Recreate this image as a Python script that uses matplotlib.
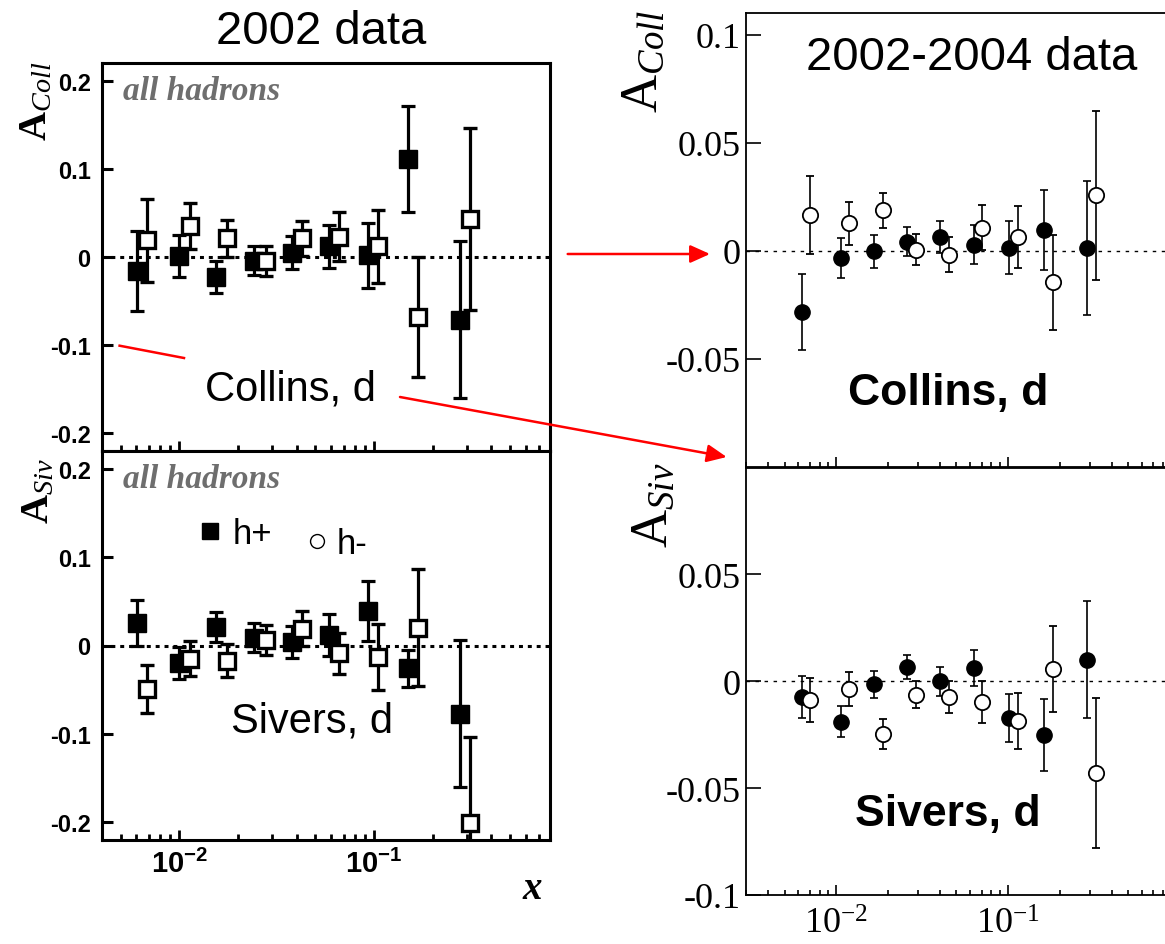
import matplotlib.pyplot as plt
import numpy as np
from matplotlib.lines import Line2D
from matplotlib.patches import FancyArrowPatch
from matplotlib.ticker import LogLocator, NullFormatter

plt.rcParams['mathtext.fontset'] = 'custom'
plt.rcParams['mathtext.rm'] = 'Liberation Serif'
plt.rcParams['mathtext.it'] = 'Liberation Serif:italic'
plt.rcParams['mathtext.bf'] = 'Liberation Serif:bold'
plt.rcParams['mathtext.sf'] = 'Liberation Sans:bold'

# 2002 data (squares): h+ filled, h- open
x02_pos = [0.0061, 0.0100, 0.0155, 0.0243, 0.0377, 0.0590, 0.0927, 0.150, 0.275]
x02_neg = [0.00686, 0.0113, 0.0176, 0.0278, 0.0424, 0.0664, 0.105, 0.168, 0.310]
coll02_pos = [-0.016, 0.001, -0.023, -0.004, 0.005, 0.012, 0.002, 0.111, -0.071]
coll02_pos_err = [0.045, 0.024, 0.018, 0.016, 0.019, 0.024, 0.037, 0.060, 0.089]
coll02_neg = [0.019, 0.035, 0.021, -0.004, 0.021, 0.023, 0.012, -0.068, 0.043]
coll02_neg_err = [0.047, 0.026, 0.021, 0.017, 0.020, 0.028, 0.041, 0.068, 0.103]
siv02_pos = [0.026, -0.020, 0.021, 0.009, 0.004, 0.012, 0.039, -0.026, -0.077]
siv02_pos_err = [0.026, 0.018, 0.017, 0.016, 0.018, 0.024, 0.034, 0.021, 0.083]
siv02_neg = [-0.049, -0.015, -0.017, 0.006, 0.019, -0.009, -0.013, 0.020, -0.201]
siv02_neg_err = [0.027, 0.020, 0.019, 0.017, 0.020, 0.023, 0.037, 0.066, 0.098]

# 2002-2004 data (circles): h+ filled, h- open
x04_pos = [0.00632, 0.01069, 0.01656, 0.0257, 0.0402, 0.0632, 0.1016, 0.1615, 0.289]
x04_neg = [0.00708, 0.01186, 0.01862, 0.0292, 0.0453, 0.0709, 0.1143, 0.1819, 0.3236]
coll04_pos = [-0.0283, -0.0035, -0.0003, 0.0043, 0.0064, 0.0028, 0.0015, 0.0095, 0.0015]
coll04_pos_err = [0.0176, 0.0093, 0.0075, 0.0065, 0.0072, 0.0091, 0.0123, 0.0185, 0.031]
coll04_neg = [0.0165, 0.0127, 0.0188, 0.0005, -0.0018, 0.0107, 0.0064, -0.0145, 0.0257]
coll04_neg_err = [0.018, 0.0099, 0.0081, 0.0072, 0.0081, 0.0105, 0.0142, 0.022, 0.039]
siv04_pos = [-0.0073, -0.0189, -0.0015, 0.0067, 0.0, 0.0062, -0.0173, -0.0252, 0.0101]
siv04_pos_err = [0.0098, 0.0072, 0.0065, 0.0058, 0.0067, 0.0085, 0.0112, 0.017, 0.0275]
siv04_neg = [-0.0088, -0.0036, -0.0248, -0.0062, -0.0073, -0.0098, -0.0186, 0.0057, -0.0429]
siv04_neg_err = [0.0103, 0.0078, 0.007, 0.0064, 0.0076, 0.0097, 0.013, 0.0201, 0.035]

left_yticks = [-0.2, -0.1, 0, 0.1, 0.2]
left_ylabels = ['-0.2', '-0.1', '0', '0.1', '0.2']
xticks = [0.01, 0.1]
left_xlabels = [r'$\mathsf{10^{-2}}$', r'$\mathsf{10^{-1}}$']
right_xlabels = [r'$\mathrm{10^{-2}}$', r'$\mathrm{10^{-1}}$']
coll_right_yticks = [-0.05, 0, 0.05, 0.1]
coll_right_ylabels = ['-0.05', '0', '0.05', '0.1']
siv_right_yticks = [-0.1, -0.05, 0, 0.05]
siv_right_ylabels = ['-0.1', '-0.05', '0', '0.05']

W, H = 1165, 945
fig = plt.figure(figsize=(W / 100, H / 100), dpi=100)


def fx(px):
    return px / W


def fy(py):
    return 1 - py / H


def box(x0, y0, x1, y1):
    # pixel box (top-left origin) -> figure fraction rect
    return [fx(x0), fy(y1), (x1 - x0) / W, (y1 - y0) / H]


ax_c02 = fig.add_axes(box(101.8, 64, 550, 452))
ax_s02 = fig.add_axes(box(101.8, 452, 550, 841))
ax_c04 = fig.add_axes(box(746.4, 14, 1180, 468))
ax_s04 = fig.add_axes(box(746.4, 468.5, 1180, 896))

sans = 'Liberation Sans'
serif = 'Liberation Serif'

# ---- 2002 panels ----
for ax, ypos, epos, yneg, eneg in [(ax_c02, coll02_pos, coll02_pos_err, coll02_neg, coll02_neg_err),
                                   (ax_s02, siv02_pos, siv02_pos_err, siv02_neg, siv02_neg_err)]:
    ax.set_xscale('log')
    ax.set_xlim(0.004, 0.8)
    ax.set_ylim(-0.22, 0.22)
    ax.axhline(0, color='black', lw=2.2, dashes=(1.3, 1.6), zorder=1)
    ax.errorbar(x02_pos, ypos, yerr=epos, fmt='s', ms=12.5, mfc='black', mec='black',
                ecolor='black', elinewidth=2.3, capsize=5, capthick=2.3, zorder=3)
    ax.errorbar(x02_neg, yneg, yerr=eneg, fmt='s', ms=12, mfc='white', mec='black', mew=2.4,
                ecolor='black', elinewidth=2.3, capsize=5, capthick=2.3, zorder=4)
    for s in ax.spines.values():
        s.set_linewidth(2.2)
    ax.set_yticks(left_yticks)
    ax.set_yticklabels(left_ylabels, fontfamily=sans, fontweight='bold', fontsize=17)
    ax.set_xticks(xticks)
    ax.xaxis.set_minor_locator(LogLocator(base=10, subs=np.arange(2, 10)))
    ax.xaxis.set_minor_formatter(NullFormatter())
    ax.tick_params(axis='y', direction='in', length=8, width=2.2, pad=8)
    ax.tick_params(axis='x', which='major', direction='in', length=7, width=2, pad=6, top=False)
    ax.tick_params(axis='x', which='minor', direction='in', length=4, width=2, top=False)

ax_c02.set_xticklabels([])
ax_s02.set_xticklabels(left_xlabels, fontsize=21)

for yy in (92, 480):
    fig.text(fx(123), fy(yy), 'all hadrons', family=serif, style='italic', weight='bold',
             fontsize=24, color='#6e6e6e', ha='left', va='center')

fig.text(fx(35), fy(101), r'$\mathbf{A}_{Coll}$', fontsize=29, rotation=90, ha='center', va='center')
fig.text(fx(37), fy(491), r'$\mathbf{A}_{Siv}$', fontsize=29, rotation=90, ha='center', va='center')
fig.text(fx(532), fy(890), 'x', family=serif, style='italic', weight='bold', fontsize=28,
         ha='center', va='center')

fig.text(fx(321), fy(32), '2002 data', family=sans, fontsize=34, ha='center', va='center')
fig.text(fx(290), fy(390), 'Collins, d', family=sans, fontsize=30, ha='center', va='center')
fig.text(fx(312), fy(722), 'Sivers, d', family=sans, fontsize=30, ha='center', va='center')

# legend: h+ filled square, h- open circle
h_pos = Line2D([], [], ls='none', marker='s', ms=11.5, mfc='black', mec='black')
h_neg = Line2D([], [], ls='none', marker='o', ms=10, mfc='white', mec='black', mew=1.0)
leg1 = ax_s02.legend([h_pos], ['h+'], loc='center left', bbox_to_anchor=(fx(199.3), fy(535)),
                     bbox_transform=fig.transFigure, frameon=False, borderpad=0, borderaxespad=0,
                     numpoints=1, handlelength=0.64, handletextpad=0.32,
                     prop={'family': sans, 'size': 25})
ax_s02.add_artist(leg1)
ax_s02.legend([h_neg], ['h-'], loc='center left', bbox_to_anchor=(fx(307.4), fy(545)),
              bbox_transform=fig.transFigure, frameon=False, borderpad=0, borderaxespad=0,
              numpoints=1, handlelength=0.55, handletextpad=0.28,
              prop={'family': sans, 'size': 25})

# ---- 2002-2004 panels ----
for ax, ypos, epos, yneg, eneg, yt, yl, ylim in [
        (ax_c04, coll04_pos, coll04_pos_err, coll04_neg, coll04_neg_err,
         coll_right_yticks, coll_right_ylabels, (-0.1, 0.11)),
        (ax_s04, siv04_pos, siv04_pos_err, siv04_neg, siv04_neg_err,
         siv_right_yticks, siv_right_ylabels, (-0.1, 0.1))]:
    ax.set_xscale('log')
    ax.set_xlim(0.003, 1)
    ax.set_ylim(*ylim)
    ax.axhline(0, color='black', lw=1.0, dashes=(2.5, 4), zorder=1)
    ax.errorbar(x04_pos, ypos, yerr=epos, fmt='o', ms=11, mfc='black', mec='black',
                ecolor='black', elinewidth=1.2, capsize=3, capthick=1.2, zorder=3)
    ax.errorbar(x04_neg, yneg, yerr=eneg, fmt='o', ms=11, mfc='white', mec='black', mew=1.3,
                ecolor='black', elinewidth=1.2, capsize=3, capthick=1.2, zorder=4)
    for s in ax.spines.values():
        s.set_linewidth(1.3)
    ax.set_yticks(yt)
    ax.set_yticklabels(yl, fontfamily=serif, fontsize=26)
    ax.set_xticks(xticks)
    ax.xaxis.set_minor_locator(LogLocator(base=10, subs=np.arange(2, 10)))
    ax.xaxis.set_minor_formatter(NullFormatter())
    ax.tick_params(axis='y', direction='in', length=11, width=1.2, pad=4)
    ax.tick_params(axis='x', which='major', direction='in', length=7, width=1.2, pad=8, top=False)
    ax.tick_params(axis='x', which='minor', direction='in', length=3.6, width=1.2, top=False)

ax_c04.set_xticklabels([])
ax_s04.set_xticklabels(right_xlabels, fontsize=26)

fig.text(fx(642), fy(61), r'$\mathrm{A}_{Coll}$', fontsize=38, rotation=90, ha='center', va='center')
fig.text(fx(652), fy(505), r'$\mathrm{A}_{Siv}$', fontsize=38, rotation=90, ha='center', va='center')

fig.text(fx(972), fy(58), '2002-2004 data', family=sans, fontsize=34, ha='center', va='center')
fig.text(fx(948), fy(393), 'Collins, d', family=sans, weight='bold', fontsize=32,
         ha='center', va='center')
fig.text(fx(948), fy(815), 'Sivers, d', family=sans, weight='bold', fontsize=32,
         ha='center', va='center')

# red connectors
red = '#ff0000'
fig.add_artist(Line2D([fx(119.6), fx(184)], [fy(346.7), fy(359)], color=red, lw=1.8,
                      transform=fig.transFigure))
for (x0, y0), (x1, y1) in [((400, 398), (726.7, 458)), ((567.7, 255), (710, 255))]:
    fig.add_artist(FancyArrowPatch((fx(x0), fy(y0)), (fx(x1), fy(y1)), transform=fig.transFigure,
                                   arrowstyle='-|>,head_length=0.6,head_width=0.27',
                                   mutation_scale=20, color=red, lw=1.8,
                                   shrinkA=0, shrinkB=0))

fig.savefig('out.png', dpi=100)
